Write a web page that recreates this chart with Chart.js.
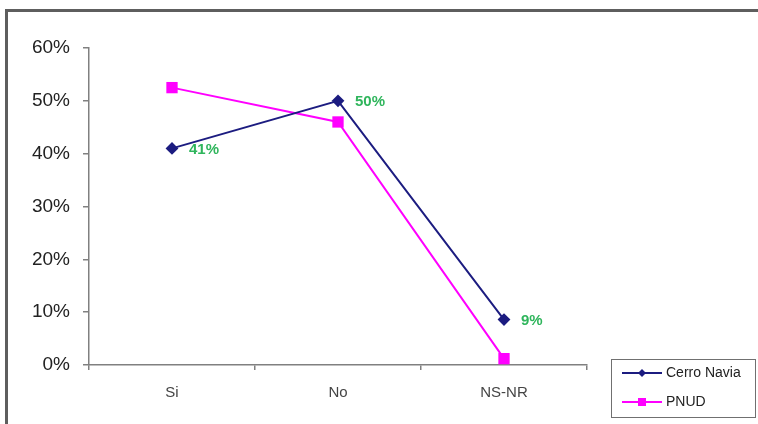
<!DOCTYPE html>
<html>
<head>
<meta charset="utf-8">
<script src="https://cdn.jsdelivr.net/npm/chart.js@4.4.0/dist/chart.umd.min.js"></script>
<style>
body { margin: 0; background: #fff; }
#wrap { position: relative; width: 758px; height: 424px; overflow: hidden; }
#frame { position: absolute; left: 5px; top: 9px; width: 800px; height: 500px;
  border-left: 3px solid #5e5e5e; border-top: 3px solid #5e5e5e; }
#chart { position: absolute; left: 0; top: 0; }
</style>
</head>
<body>
<div id="wrap">
  <div id="frame"></div>
  <canvas id="chart" width="758" height="424"></canvas>
</div>
<script>
// DATA
const categories = ['Si', 'No', 'NS-NR'];
const cerroNavia = [41, 50, 8.6];
const pnud = [52.5, 46, 1.2];
const cerroLabels = ['41%', '50%', '9%'];
const seriesNames = ['Cerro Navia', 'PNUD'];

const FONT = '"Liberation Sans", Arial, sans-serif';

// green value labels next to the Cerro Navia points
const valueLabels = {
    id: 'valueLabels',
    afterDatasetsDraw(chart) {
        const ctx = chart.ctx;
        const meta = chart.getDatasetMeta(0);
        ctx.save();
        ctx.font = 'bold 15px ' + FONT;
        ctx.fillStyle = '#2fb55c';
        ctx.textAlign = 'left';
        ctx.textBaseline = 'middle';
        meta.data.forEach(function(pt, i) {
            ctx.fillText(cerroLabels[i], pt.x + 17, pt.y + 1);
        });
        ctx.restore();
    }
};

// boxed legend bottom right
const boxLegend = {
    id: 'boxLegend',
    afterDraw(chart) {
        const ctx = chart.ctx;
        ctx.save();
        ctx.strokeStyle = '#707070';
        ctx.lineWidth = 1;
        ctx.strokeRect(611.5, 359.5, 144, 58);
        ctx.font = '14px ' + FONT;
        ctx.textBaseline = 'middle';
        chart.data.datasets.forEach(function(ds, i) {
            const y = 373 + i * 29;
            ctx.strokeStyle = ds.borderColor;
            ctx.lineWidth = 2;
            ctx.beginPath();
            ctx.moveTo(622, y);
            ctx.lineTo(662, y);
            ctx.stroke();
            ctx.fillStyle = ds.borderColor;
            if (ds.pointStyle === 'rectRot') {
                ctx.beginPath();
                ctx.moveTo(642 - 4, y);
                ctx.lineTo(642, y - 4);
                ctx.lineTo(642 + 4, y);
                ctx.lineTo(642, y + 4);
                ctx.closePath();
                ctx.fill();
            } else {
                ctx.fillRect(638, y - 4, 8, 8);
            }
            ctx.fillStyle = '#222';
            ctx.fillText(ds.label, 666, y);
        });
        ctx.restore();
    }
};

const ctx = document.getElementById('chart').getContext('2d');
const chart = new Chart(ctx, {
    type: 'line',
    data: {
        labels: categories,
        datasets: [{
            label: seriesNames[0],
            data: cerroNavia,
            borderColor: '#1c1c80',
            backgroundColor: '#1c1c80',
            borderWidth: 2,
            pointStyle: 'rectRot',
            pointRadius: 5,
            pointBackgroundColor: '#1c1c80',
            pointBorderColor: '#1c1c80',
            tension: 0
        }, {
            label: seriesNames[1],
            data: pnud,
            borderColor: '#ff00ff',
            backgroundColor: '#ff00ff',
            borderWidth: 2,
            pointStyle: 'rect',
            pointRadius: 8,
            pointBorderWidth: 0,
            pointBackgroundColor: '#ff00ff',
            pointBorderColor: '#ff00ff',
            tension: 0
        }]
    },
    options: {
        responsive: false,
        animation: false,
        layout: { padding: { top: 48, right: 171, bottom: 0, left: 0 } },
        plugins: {
            legend: { display: false },
            tooltip: { enabled: false }
        },
        scales: {
            x: {
                offset: true,
                afterFit: function(scale) { scale.height = 59; },
                grid: { offset: true, drawOnChartArea: false, tickLength: 5, color: '#808080', lineWidth: 1.5 },
                border: { color: '#808080', width: 1.5 },
                ticks: { padding: 14, color: '#444', font: { family: FONT, size: 15 } }
            },
            y: {
                min: 0,
                max: 60,
                afterFit: function(scale) { scale.width = 89; },
                grid: { drawOnChartArea: false, tickLength: 6, color: '#808080', lineWidth: 1.5 },
                border: { color: '#808080', width: 1.5 },
                ticks: {
                    stepSize: 10,
                    padding: 13,
                    color: '#222',
                    font: { family: FONT, size: 19 },
                    callback: function(v) { return v + '%'; }
                }
            }
        }
    },
    plugins: [valueLabels, boxLegend]
});
</script>
</body>
</html>
